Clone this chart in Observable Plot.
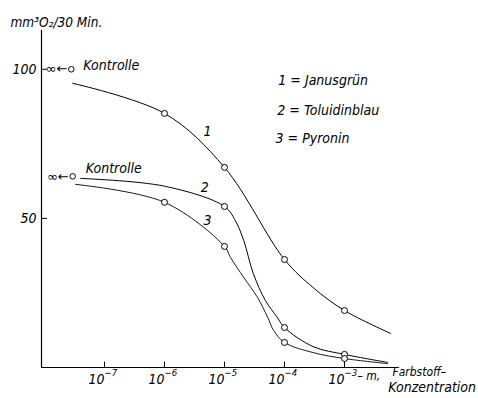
<!DOCTYPE html>
<html><head><meta charset="utf-8">
<script src="https://cdn.jsdelivr.net/npm/d3@7"></script>
<script src="https://cdn.jsdelivr.net/npm/@observablehq/plot@0.6"></script>
<style>body{margin:0;background:#fff}</style>
</head><body><div id="chart"></div>
<script>
// Concentrations (mol) and O2 consumption (mm3 O2 / 30 min)
const xTicks = [1e-7, 1e-6, 1e-5, 1e-4, 1e-3];
const xTickExp = ["−7", "−6", "−5", "−4", "−3"];
const yTicks = [50, 100];

// curve 1 Janusgrün
const c1 = [2.95e-8, 1e-6, 1e-5, 1e-4, 3e-4, 1e-3, 5.9e-3];
const v1 = [95.3, 85.2, 67.1, 36.2, 26.8, 19.1, 11.4];
const m1c = [1e-6, 1e-5, 1e-4, 1e-3];
const m1v = [85.2, 67.1, 36.2, 19.1];
// curve 2 Toluidinblau
const c2 = [4e-8, 1e-6, 1e-5, 1.51e-5, 2.09e-5, 3.02e-5, 4.79e-5, 7.59e-5, 1e-4, 3e-4, 1e-3, 5.25e-3];
const v2 = [63.4, 60.8, 54, 49.3, 42.6, 31.5, 22.5, 16.8, 13.4, 7.0, 4.4, 1.7];
const m2c = [1e-5, 1e-4, 1e-3];
const m2v = [54, 13.4, 4.4];
// curve 3 Pyronin
const c3 = [3.3e-8, 1e-6, 1e-5, 1.26e-5, 2.09e-5, 3.55e-5, 5.25e-5, 6.6e-5, 1e-4, 3e-4, 1e-3, 5.25e-3];
const v3 = [61.4, 55.4, 40.6, 36.9, 30.2, 23.5, 16.8, 12.4, 8.4, 5.0, 3.0, 1.3];
const m3c = [1e-6, 1e-5, 1e-4, 1e-3];
const m3v = [55.4, 40.6, 8.4, 3.0];
// controls (no dye)
const ctrlC = [2.8e-8, 2.95e-8];
const ctrlV = [100, 64.1];

const legendText = ["1 = Janusgrün", "2 = Toluidinblau", "3 = Pyronin"];
const legendC = [7.9e-5, 7.6e-5, 7.1e-5];
const legendV = [96.3, 86.2, 76.8];
const curveLabels = ["1", "2", "3"];
const curveLabelC = [5.2e-6, 4.7e-6, 5.2e-6];
const curveLabelV = [79.2, 60.4, 49.3];

const xMin = 10 ** -8.05, xMax = 10 ** -1.95, yMax = 113;
const font = "DejaVu Sans Condensed, Liberation Sans Narrow, sans-serif";
const T = {fontFamily: font, fontStyle: "italic", fill: "black"};

const pts = (c, v) => c.map((x, i) => ({x, y: v[i]}));

const chart = Plot.plot({
  width: 478, height: 398,
  marginLeft: 41, marginRight: 71, marginTop: 30, marginBottom: 31,
  x: {type: "log", domain: [xMin, xMax], axis: null},
  y: {domain: [0, yMax], axis: null},
  style: {background: "white"},
  marks: [
    // axes
    Plot.ruleX([xMin], {y1: 0, y2: yMax, stroke: "black", strokeWidth: 1.2}),
    Plot.ruleY([0], {x1: xMin, x2: 10 ** -2.15, stroke: "black", strokeWidth: 1}),
    Plot.ruleX(xTicks, {y1: 0, y2: 1.8, stroke: "black"}),
    Plot.ruleY(yTicks, {x1: xMin, x2: 10 ** (-8.05 + 6 / 60), stroke: "black"}),
    Plot.text(yTicks, {x: xMin, y: d => d, text: d => String(d), dx: -5, textAnchor: "end", fontSize: 14, ...T}),
    Plot.text(xTicks, {x: d => d, y: 0, text: () => "10", dx: 0, dy: 12, textAnchor: "end", fontSize: 14, ...T}),
    Plot.text(xTicks, {x: d => d, y: 0, text: (d, i) => xTickExp[i], dx: 0, dy: 5, textAnchor: "start", fontSize: 9.5, ...T}),
    Plot.text(["– m,"], {x: 1e-3, y: 0, dx: 13, dy: 9, textAnchor: "start", fontSize: 12, ...T}),
    Plot.text(["Farbstoff–"], {x: 10 ** -2.2, y: 0, dy: 5, textAnchor: "start", fontSize: 12, ...T}),
    Plot.text(["Konzentration"], {x: 10 ** -2.27, y: 0, dy: 20, textAnchor: "start", fontSize: 14, ...T}),
    Plot.text(["mm³O₂/30 Min."], {x: xMin, y: yMax, dx: -31, dy: -8, textAnchor: "start", fontSize: 13.5, ...T}),
    // curves
    Plot.line(pts(c1, v1), {x: "x", y: "y", curve: "catmull-rom", stroke: "black", strokeWidth: 1}),
    Plot.line(pts(c2, v2), {x: "x", y: "y", curve: "catmull-rom", stroke: "black", strokeWidth: 1}),
    Plot.line(pts(c3, v3), {x: "x", y: "y", curve: "catmull-rom", stroke: "black", strokeWidth: 0.9}),
    Plot.dot(pts(m1c, m1v), {x: "x", y: "y", r: 3, fill: "white", stroke: "black", strokeWidth: 1}),
    Plot.dot(pts(m2c, m2v), {x: "x", y: "y", r: 3, fill: "white", stroke: "black", strokeWidth: 1}),
    Plot.dot(pts(m3c, m3v), {x: "x", y: "y", r: 3, fill: "white", stroke: "black", strokeWidth: 1}),
    // controls
    Plot.dot(pts(ctrlC, ctrlV), {x: "x", y: "y", r: 2.8, fill: "white", stroke: "black", strokeWidth: 1}),
    Plot.text(pts(ctrlC, ctrlV), {x: "x", y: "y", text: () => "∞←", dx: -4, textAnchor: "end", fontSize: 13, fontFamily: "DejaVu Sans", fill: "black"}),
    Plot.text(pts(ctrlC, ctrlV), {x: "x", y: "y", text: () => "Kontrolle", dx: 12, dy: -4, textAnchor: "start", fontSize: 14, ...T,
      filter: (d, i) => i === 0}),
    Plot.text(pts(ctrlC, ctrlV), {x: "x", y: "y", text: () => "Kontrolle", dx: 13, dy: -8, textAnchor: "start", fontSize: 14, ...T,
      filter: (d, i) => i === 1}),
    // curve labels
    Plot.text(curveLabels, {x: (d, i) => curveLabelC[i], y: (d, i) => curveLabelV[i], text: d => d, fontSize: 14, ...T}),
    // legend
    Plot.text(legendText, {x: (d, i) => legendC[i], y: (d, i) => legendV[i], text: d => d, textAnchor: "start", fontSize: 14, ...T})
  ]
});
document.getElementById("chart").appendChild(chart);
</script>
</body></html>
